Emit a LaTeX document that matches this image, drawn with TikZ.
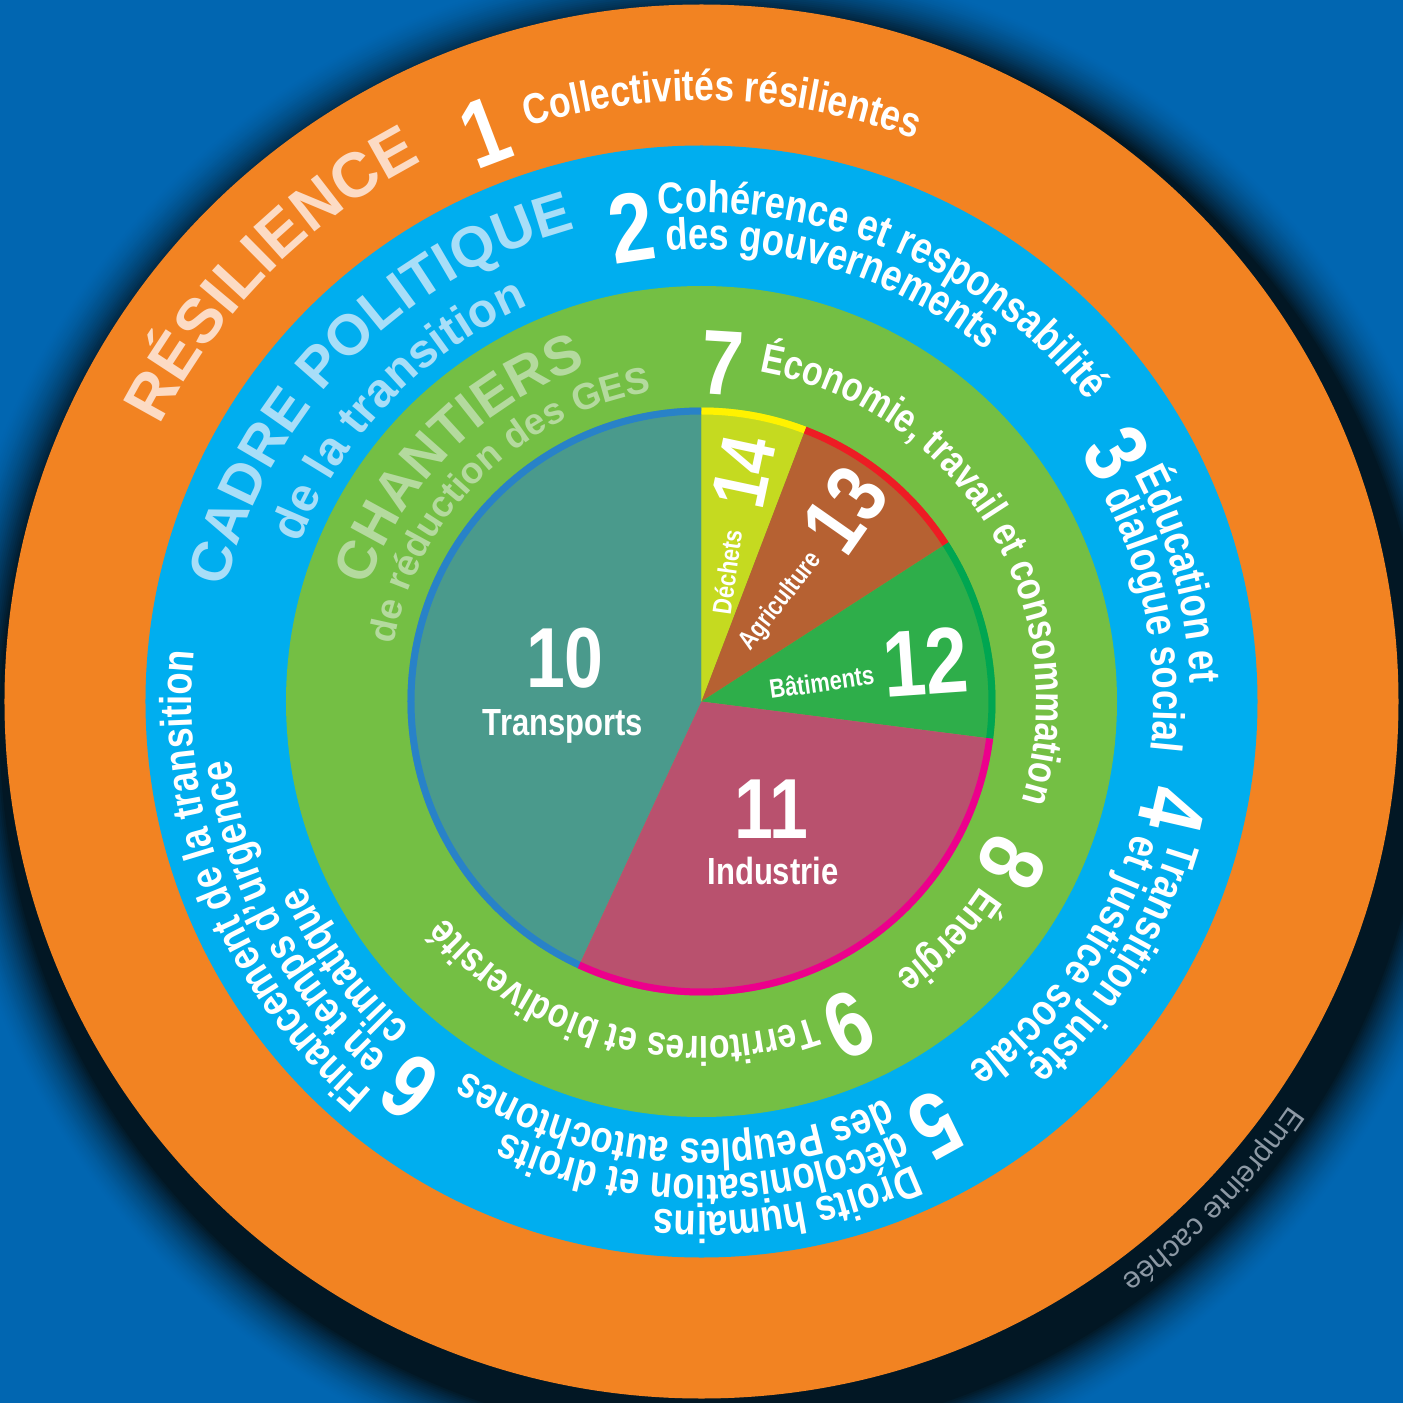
\documentclass[tikz,border=0pt]{standalone}
\usepackage{fontspec}
\setmainfont{Liberation Sans}
\newfontfamily\hvfont{Liberation Sans}
\newfontfamily\cnfont{Liberation Sans}[FakeStretch=0.82]
\usetikzlibrary{decorations.text}
\definecolor{bgblue}{HTML}{0166B1}
\definecolor{shadowdark}{HTML}{021724}
\definecolor{ringorange}{HTML}{F28322}
\definecolor{ringblue}{HTML}{00AEEF}
\definecolor{ringgreen}{HTML}{74BF44}
\definecolor{resil}{HTML}{FCDBC4}
\definecolor{cadre}{HTML}{A8DEF8}
\definecolor{chant}{HTML}{B4DA9E}
\definecolor{grayt}{HTML}{8D99A5}
\definecolor{ftransp}{HTML}{4A9A8C}
\definecolor{fdech}{HTML}{C5DA20}
\definecolor{fagri}{HTML}{B66132}
\definecolor{fbat}{HTML}{2EAE4A}
\definecolor{findus}{HTML}{B9516E}
\definecolor{rtransp}{HTML}{2882C8}
\definecolor{rdech}{HTML}{FFF200}
\definecolor{ragri}{HTML}{ED1C24}
\definecolor{rbat}{HTML}{00A651}
\definecolor{rindus}{HTML}{EC008C}
\newcommand\ftOr{\cnfont\bfseries\fontsize{21.6}{22}\selectfont\color{white}}
\newcommand\ftBl{\cnfont\bfseries\fontsize{22.2}{23}\selectfont\color{white}}
\newcommand\ftGr{\cnfont\bfseries\fontsize{20.6}{21}\selectfont\color{white}}
\newcommand\ftResil{\hvfont\bfseries\fontsize{31.5}{32}\selectfont\color{resil}}
\newcommand\ftCadre{\hvfont\bfseries\fontsize{28.5}{29}\selectfont\color{cadre}}
\newcommand\ftCadreB{\hvfont\bfseries\fontsize{23.8}{24}\selectfont\color{cadre}}
\newcommand\ftChant{\hvfont\bfseries\fontsize{27.5}{28}\selectfont\color{chant}}
\newcommand\ftChantB{\hvfont\bfseries\fontsize{18.5}{19}\selectfont\color{chant}}
\newcommand\ftEmpr{\hvfont\fontsize{15}{15}\selectfont\color{grayt}}
\newcommand\arctext[4]{\path[decorate,decoration={text along path,text align=left,text={|#3|#4}}] (#2:#1) arc[start angle=#2,end angle=#2-175,radius=#1];}
\tikzset{
  numlbl/.style={text=white,inner sep=0pt,font=\cnfont\bfseries\fontsize{#1}{#1}\selectfont},
  numlbl/.default=46,
  pielbl/.style={text=white,inner sep=0pt,font=\cnfont\bfseries\fontsize{#1}{#1}\selectfont},
  rim/.style={line width=3.5pt}
}
\begin{document}
\begin{tikzpicture}[x=0.5pt,y=0.5pt]
\useasboundingbox (-701.5,-701.5) rectangle (701.5,701.5);
\clip (-701.5,-701.5) rectangle (701.5,701.5);
\fill[bgblue] (-701.5,-701.5) rectangle (701.5,701.5);
% shadow (soft edge)
\foreach \k in {0,...,29}{
  \pgfmathtruncatemacro\pp{100*(\k/29)^1.6}
  \fill[shadowdark!\pp!bgblue] (12,-25) circle[radius=772-2*\k];
}
\fill[shadowdark] (12,-25) circle[radius=712];
% rings
\fill[ringorange] (0,0) circle[radius=697];
\fill[ringblue] (0,0) circle[radius=556];
\fill[ringgreen] (0,0) circle[radius=415.5];
% pie
\coordinate (pc) at (0,0);
\fill[ftransp] (pc) -- (90:294) arc[start angle=90,end angle=245.1,radius=294] -- cycle;
\fill[fdech] (pc) -- (69.1:294) arc[start angle=69.1,end angle=90,radius=294] -- cycle;
\fill[fagri] (pc) -- (32.8:294) arc[start angle=32.8,end angle=69.1,radius=294] -- cycle;
\fill[fbat] (pc) -- (-7.3:294) arc[start angle=-7.3,end angle=32.8,radius=294] -- cycle;
\fill[findus] (pc) -- (-114.9:294) arc[start angle=-114.9,end angle=-7.3,radius=294] -- cycle;
\draw[rim,rtransp] (90:290.5) arc[start angle=90,end angle=245.1,radius=290.5];
\draw[rim,rdech] (69.1:290.5) arc[start angle=69.1,end angle=90,radius=290.5];
\draw[rim,ragri] (32.8:290.5) arc[start angle=32.8,end angle=69.1,radius=290.5];
\draw[rim,rbat] (-7.3:290.5) arc[start angle=-7.3,end angle=32.8,radius=290.5];
\draw[rim,rindus] (-114.9:290.5) arc[start angle=-114.9,end angle=-7.3,radius=290.5];
% pie labels
\node[pielbl=42.6,anchor=base] (l10) at (-136.5,14.5) {10};
\node[pielbl=18.9,anchor=base] (t10) at (-138.5,-33.5) {Transports};
\node[pielbl=42.6,anchor=base] (l11) at (69.5,-136.5) {11};
\node[pielbl=18.9,anchor=base] (t11) at (71.5,-182.5) {Industrie};
\node[pielbl=46.8,anchor=base,rotate=4] (l12) at (226.5,6.8) {12};
\node[pielbl=13.3,anchor=base,rotate=8] (t12) at (121.5,9.9) {Bâtiments};
\node[pielbl=43,rotate=55] (l13) at (143.5,191.5) {13};
\node[pielbl=13.3,rotate=52] (t13) at (79.5,100) {Agriculture};
\node[pielbl=38.5,rotate=78] (l14) at (42.5,230) {14};
\node[pielbl=13.3,rotate=82] (t14) at (25.5,129.5) {Déchets};
% orange ring
\arctext{608}{153}{\ftResil}{RÉSILIENCE}
\arctext{601}{106.8}{\ftOr}{Collectivités résilientes}
\node[numlbl=47.5,rotate=20.8] (n1) at (110.8:609) {1};
% blue ring
\arctext{489}{166.5}{\ftCadre}{CADRE POLITIQUE}
\arctext{432}{158.5}{\ftCadreB}{de la transition}
\node[numlbl=49,rotate=8.4] (n2) at (98.4:479) {2};
\arctext{489}{95}{\ftBl}{Cohérence et responsabilité}
\arctext{452}{94.5}{\ftBl}{des gouvernements}
\node[numlbl=45,rotate=-59.1] (n3) at (30.9:484) {3};
\arctext{489}{27.7}{\ftBl}{Éducation et}
\arctext{452}{27.1}{\ftBl}{dialogue social}
\node[numlbl,rotate=-103] (n4) at (-13:484) {4};
\arctext{489}{-16.5}{\ftBl}{Transition juste}
\arctext{452}{-17}{\ftBl}{et justice sociale}
\node[numlbl,rotate=-151.1] (n5) at (-61.1:484) {5};
\arctext{510}{-65.5}{\ftBl}{Droits humains}
\arctext{474}{-65}{\ftBl}{décolonisation et droits}
\arctext{438}{-65}{\ftBl}{des Peuples autochtones}
\node[numlbl,rotate=142.9] (n6) at (232.9:483) {6};
\arctext{510}{229.8}{\ftBl}{Financement de la transition}
\arctext{474}{228.6}{\ftBl}{en temps d’urgence}
\arctext{438}{228.3}{\ftBl}{climatique}
% green ring
\arctext{353}{161}{\ftChant}{CHANTIERS}
\arctext{313}{169.5}{\ftChantB}{de réduction des GES}
\node[numlbl,rotate=-3.6] (n7) at (86.4:339) {7};
\arctext{335}{80}{\ftGr}{Économie, travail et consommation}
\node[numlbl,rotate=-117.5] (n8) at (-27.5:350) {8};
\arctext{335}{-33.5}{\ftGr}{Énergie}
\node[numlbl,rotate=-155.6] (n9) at (-65.6:355) {9};
\arctext{335}{-70.5}{\ftGr}{Territoires et biodiversité}
% shadow text
\arctext{713}{-34.5}{\ftEmpr}{Empreinte cachée}
\end{tikzpicture}
\end{document}
